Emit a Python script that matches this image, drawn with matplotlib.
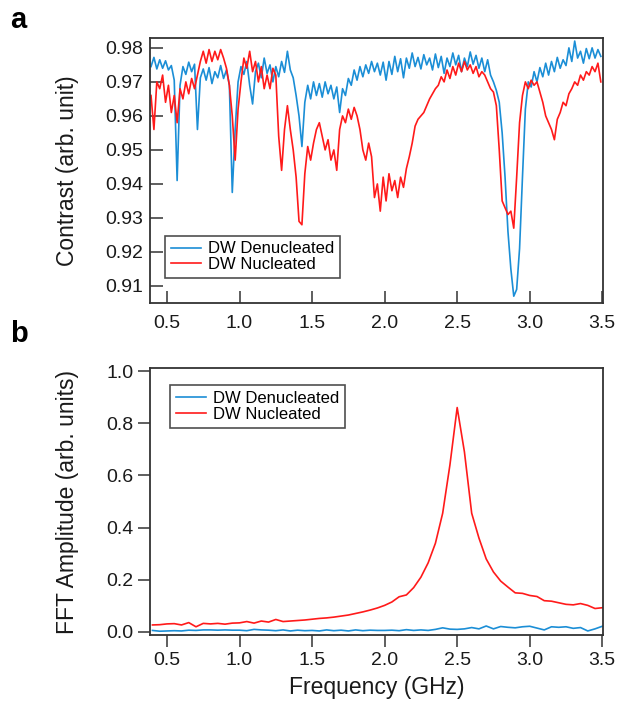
import numpy as np
import matplotlib
matplotlib.use("Agg")
import matplotlib.pyplot as plt

plt.rcParams['font.family'] = ['Liberation Sans', 'DejaVu Sans']

# ---------------- data: panel a (ODMR contrast) ----------------
freq_a = np.round(np.arange(0.39, 3.50, 0.02), 2)

contrast_denucleated = [
    0.9745, 0.9772, 0.9738, 0.9765, 0.9740, 0.9762, 0.9735, 0.9748, 0.9705, 0.9410,
    0.9690, 0.9745, 0.9722, 0.9758, 0.9730, 0.9752, 0.9560, 0.9712, 0.9738, 0.9705,
    0.9742, 0.9695, 0.9730, 0.9712, 0.9748, 0.9710, 0.9735, 0.9690, 0.9375, 0.9560,
    0.9700, 0.9745, 0.9722, 0.9760, 0.9690, 0.9635, 0.9730, 0.9755, 0.9712, 0.9770,
    0.9725, 0.9750, 0.9700, 0.9745, 0.9715, 0.9760, 0.9728, 0.9790, 0.9735, 0.9712,
    0.9660, 0.9600, 0.9510, 0.9640, 0.9690, 0.9650, 0.9700, 0.9660, 0.9695, 0.9655,
    0.9700, 0.9665, 0.9690, 0.9650, 0.9685, 0.9610, 0.9680, 0.9660, 0.9710, 0.9690,
    0.9735, 0.9705, 0.9745, 0.9715, 0.9750, 0.9725, 0.9760, 0.9730, 0.9755, 0.9720,
    0.9758, 0.9705, 0.9760, 0.9722, 0.9775, 0.9730, 0.9768, 0.9712, 0.9770, 0.9740,
    0.9785, 0.9745, 0.9772, 0.9738, 0.9780, 0.9750, 0.9770, 0.9735, 0.9782, 0.9742,
    0.9775, 0.9725, 0.9770, 0.9745, 0.9785, 0.9750, 0.9778, 0.9730, 0.9770, 0.9745,
    0.9788, 0.9752, 0.9778, 0.9740, 0.9770, 0.9730, 0.9765, 0.9720, 0.9700, 0.9675,
    0.9640, 0.9550, 0.9420, 0.9260, 0.9150, 0.9070, 0.9090, 0.9210, 0.9420, 0.9620,
    0.9700, 0.9685, 0.9730, 0.9700, 0.9742, 0.9715, 0.9755, 0.9720, 0.9760, 0.9730,
    0.9772, 0.9740, 0.9765, 0.9748, 0.9800, 0.9760, 0.9820, 0.9770, 0.9790, 0.9755,
    0.9798, 0.9768, 0.9800, 0.9770, 0.9795, 0.9775,
]

contrast_nucleated = [
    0.9660, 0.9560, 0.9700, 0.9680, 0.9720, 0.9640, 0.9690, 0.9610, 0.9660, 0.9580,
    0.9680, 0.9650, 0.9700, 0.9665, 0.9710, 0.9680, 0.9720, 0.9760, 0.9790, 0.9755,
    0.9795, 0.9760, 0.9790, 0.9765, 0.9795, 0.9770, 0.9740, 0.9690, 0.9600, 0.9470,
    0.9620, 0.9700, 0.9770, 0.9740, 0.9790, 0.9730, 0.9760, 0.9700, 0.9745, 0.9680,
    0.9720, 0.9680, 0.9740, 0.9720, 0.9540, 0.9440, 0.9560, 0.9630, 0.9560, 0.9500,
    0.9420, 0.9290, 0.9280, 0.9430, 0.9510, 0.9470, 0.9520, 0.9560, 0.9580, 0.9540,
    0.9500, 0.9530, 0.9470, 0.9500, 0.9440, 0.9560, 0.9600, 0.9580, 0.9620, 0.9590,
    0.9625, 0.9600, 0.9560, 0.9500, 0.9470, 0.9520, 0.9480, 0.9360, 0.9400, 0.9320,
    0.9420, 0.9350, 0.9430, 0.9380, 0.9410, 0.9360, 0.9420, 0.9390, 0.9445, 0.9480,
    0.9520, 0.9570, 0.9590, 0.9600, 0.9610, 0.9630, 0.9650, 0.9665, 0.9680, 0.9690,
    0.9715, 0.9700, 0.9735, 0.9710, 0.9745, 0.9720, 0.9755, 0.9730, 0.9760, 0.9735,
    0.9750, 0.9725, 0.9745, 0.9715, 0.9730, 0.9720, 0.9700, 0.9680, 0.9670, 0.9630,
    0.9500, 0.9350, 0.9330, 0.9310, 0.9320, 0.9270, 0.9420, 0.9580, 0.9660, 0.9700,
    0.9680, 0.9705, 0.9690, 0.9700, 0.9670, 0.9640, 0.9600, 0.9580, 0.9560, 0.9530,
    0.9590, 0.9610, 0.9640, 0.9630, 0.9665, 0.9680, 0.9700, 0.9690, 0.9720, 0.9705,
    0.9730, 0.9720, 0.9745, 0.9730, 0.9755, 0.9700,
]

# ---------------- data: panel b (FFT amplitude) ----------------
freq_b = np.round(np.arange(0.40, 3.501, 0.05), 2)

fft_denucleated = [
    0.006, 0.003, 0.004, 0.005, 0.004, 0.007, 0.006, 0.008, 0.008, 0.007,
    0.008, 0.007, 0.007, 0.005, 0.010, 0.008, 0.007, 0.005, 0.008, 0.004,
    0.007, 0.005, 0.006, 0.004, 0.008, 0.005, 0.007, 0.004, 0.008, 0.005,
    0.007, 0.006, 0.006, 0.007, 0.005, 0.009, 0.006, 0.008, 0.006, 0.010,
    0.016, 0.011, 0.010, 0.012, 0.017, 0.012, 0.023, 0.012, 0.021, 0.018,
    0.016, 0.020, 0.022, 0.015, 0.008, 0.020, 0.018, 0.020, 0.014, 0.017,
    0.004, 0.012, 0.022,
]

fft_nucleated = [
    0.027, 0.028, 0.031, 0.032, 0.027, 0.036, 0.020, 0.033, 0.031, 0.033,
    0.030, 0.034, 0.035, 0.040, 0.034, 0.042, 0.038, 0.048, 0.040, 0.042,
    0.044, 0.046, 0.049, 0.052, 0.054, 0.057, 0.061, 0.065, 0.071, 0.077,
    0.084, 0.092, 0.102, 0.115, 0.135, 0.142, 0.170, 0.210, 0.265, 0.340,
    0.455, 0.640, 0.860, 0.690, 0.455, 0.360, 0.280, 0.230, 0.195, 0.172,
    0.150, 0.148, 0.140, 0.136, 0.120, 0.118, 0.112, 0.106, 0.104, 0.109,
    0.102, 0.090, 0.093,
]

labels = ["DW Denucleated", "DW Nucleated"]
x_ticks = [0.5, 1.0, 1.5, 2.0, 2.5, 3.0, 3.5]
ya_ticks = [0.91, 0.92, 0.93, 0.94, 0.95, 0.96, 0.97, 0.98]
yb_ticks = [0.0, 0.2, 0.4, 0.6, 0.8, 1.0]

BLUE = '#1b8ed6'
RED = '#ff1a1a'
SPINE = '#333333'
TXT = '#1a1a1a'

W, H = 618, 707
fig = plt.figure(figsize=(W / 100, H / 100), dpi=100)

def ax_rect(l, t, r, b):
    return [l / W, 1 - b / H, (r - l) / W, (b - t) / H]

ax1 = fig.add_axes(ax_rect(150, 38, 603, 303))
ax2 = fig.add_axes(ax_rect(150, 368, 603, 635))

# panel a
ax1.plot(freq_a, contrast_denucleated, color=BLUE, lw=1.2, label=labels[0])
ax1.plot(freq_a, contrast_nucleated, color=RED, lw=1.2, label=labels[1])
ax1.set_xlim(0.383, 3.505)
ax1.set_ylim(0.905, 0.9829)
ax1.set_xticks(x_ticks)
ax1.set_xticklabels([f"{v:.1f}" for v in x_ticks])
ax1.set_yticks(ya_ticks)
ax1.set_yticklabels([f"{v:.2f}" for v in ya_ticks])
ax1.tick_params(axis='y', direction='in', length=9, width=1.1, pad=5,
                labelsize=14, colors=SPINE, labelcolor=TXT)
ax1.tick_params(axis='x', direction='in', length=9, width=1.1, pad=9,
                labelsize=14, colors=SPINE, labelcolor=TXT)
ax1.set_ylabel("Contrast (arb. unit)", fontsize=16.5, color=TXT)
ax1.yaxis.set_label_coords(-0.157, 0.5)
leg1 = ax1.legend(loc='lower left', bbox_to_anchor=(0.033, 0.094), borderaxespad=0,
                  fontsize=12, frameon=True, fancybox=False, edgecolor='#222222',
                  handlelength=1.8, handletextpad=0.45, labelspacing=0.05,
                  borderpad=0.35)
leg1.get_frame().set_linewidth(1.2)

# panel b
ax2.plot(freq_b, fft_denucleated, color=BLUE, lw=1.2, label=labels[0])
ax2.plot(freq_b, fft_nucleated, color=RED, lw=1.2, label=labels[1])
ax2.set_xlim(0.383, 3.505)
ax2.set_ylim(-0.0115, 1.0115)
ax2.set_xticks(x_ticks)
ax2.set_xticklabels([f"{v:.1f}" for v in x_ticks])
ax2.set_yticks(yb_ticks)
ax2.set_yticklabels([f"{v:.1f}" for v in yb_ticks])
ax2.tick_params(axis='both', direction='out', length=8.5, width=1.1, pad=3.5,
                labelsize=14, colors=SPINE, labelcolor=TXT)
ax2.set_xlabel("Frequency (GHz)", fontsize=16.5, color=TXT, labelpad=5)
ax2.set_ylabel("FFT Amplitude (arb. units)", fontsize=16.5, color=TXT)
ax2.yaxis.set_label_coords(-0.157, 0.5)
leg2 = ax2.legend(loc='upper left', bbox_to_anchor=(0.044, 0.936), borderaxespad=0,
                  fontsize=12, frameon=True, fancybox=False, edgecolor='#222222',
                  handlelength=1.8, handletextpad=0.45, labelspacing=0.05,
                  borderpad=0.35)
leg2.get_frame().set_linewidth(1.2)

for ax in (ax1, ax2):
    for s in ax.spines.values():
        s.set_color(SPINE)
        s.set_linewidth(1.3)

fig.text(10 / W, 1 - 28 / H, 'a', fontsize=21, fontweight='bold', va='baseline', color='black')
fig.text(10 / W, 1 - 342 / H, 'b', fontsize=21, fontweight='bold', va='baseline', color='black')

fig.savefig('out.png', dpi=100)
